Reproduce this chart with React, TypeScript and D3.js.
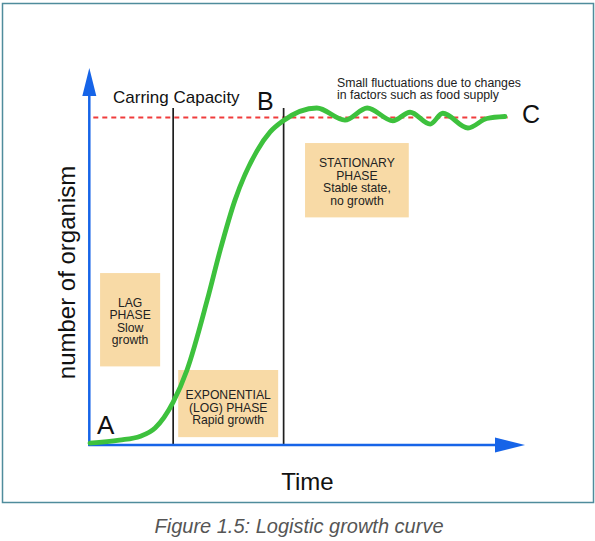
import React from 'react';
import * as d3 from 'd3';

// curve (time 0..100, population with carrying capacity = 100)
const time = [0, 7, 12, 15.5, 19.8, 23.1, 27.9, 31, 34.5, 39.8, 42.9, 46, 54, 60.7, 66, 72.1, 76.2, 81, 84, 90, 94.5, 98.8];
const population = [0.6, 1.5, 2.7, 5.2, 13.1, 22.9, 44.2, 59.5, 74.7, 89.9, 95.6, 99, 102.9, 99.2, 102.9, 99, 101.6, 98, 101.3, 96.8, 99.7, 100.3];

const carryingCapacity = 100;
const phaseBounds = [19.8, 46.1];

const phaseBoxes = [
  { t0: 2.4, t1: 16.7, n0: 24, n1: 52.5, lines: ['LAG', 'PHASE', 'Slow', 'growth'], first: 306.7 },
  { t0: 21, t1: 44.8, n0: 2.4, n1: 22.9, lines: ['EXPONENTIAL', '(LOG) PHASE', 'Rapid growth'], first: 399.3 },
  { t0: 51.2, t1: 75.9, n0: 69.5, n1: 92.2, lines: ['STATIONARY', 'PHASE', 'Stable state,', 'no growth'], first: 167.3 },
];

const note = ['Small fluctuations due to changes', 'in factors such as food supply'];

const W = 595;
const H = 541;
const font = '"Liberation Sans", Arial, sans-serif';
const blue = '#1664e8';
const green = '#3dc13d';

export default function App() {
  const x = d3.scaleLinear().domain([0, 100]).range([90, 510]);
  const y = d3.scaleLinear().domain([0, 100]).range([445, 117.5]);

  const pts = time.map((t, i) => [t, population[i]] as [number, number]);
  const line = d3.line<[number, number]>()
    .x(d => x(d[0]))
    .y(d => y(d[1]))
    .curve(d3.curveMonotoneX);

  const x0 = x(0) - 0.7;
  const y0 = y(0);

  return (
    <svg width={W} height={H} style={{ position: 'absolute', left: 0, top: 0 }} fontFamily={font}>
      <rect x={2.5} y={3.5} width={591} height={499} fill="#fff" stroke="#4f8c9c" strokeWidth={1.5} />

      {phaseBoxes.map((b, i) => {
        const cx = (x(b.t0) + x(b.t1)) / 2;
        return (
          <g key={i}>
            <rect x={x(b.t0)} y={y(b.n1)} width={x(b.t1) - x(b.t0)} height={y(b.n0) - y(b.n1)} fill="#f8daa6" />
            <text y={b.first} fontSize={12.2} textAnchor="middle" fill="#222">
              {b.lines.map((s, j) => (
                <tspan key={j} x={cx} dy={j === 0 ? 0 : 12.4}>{s}</tspan>
              ))}
            </text>
          </g>
        );
      })}

      {/* carrying capacity */}
      <line x1={x0 + 4} x2={x(99.5)} y1={y(carryingCapacity)} y2={y(carryingCapacity)}
        stroke="#f03c3c" strokeWidth={2.2} strokeDasharray="5,4" />

      {phaseBounds.map((t, i) => (
        <line key={i} x1={x(t)} x2={x(t)} y1={108} y2={y0} stroke="#1e1e1e" strokeWidth={1.7} />
      ))}

      {/* axes */}
      <line x1={x0} x2={x0} y1={y0 + 1} y2={94} stroke={blue} strokeWidth={2.5} />
      <path d={`M${x0 - 7},96 L${x0},68 L${x0 + 7},96 Z`} fill={blue} />
      <line x1={x0 - 1} x2={497} y1={y0} y2={y0} stroke={blue} strokeWidth={2.5} />
      <path d={`M495,${y0 - 7.5} L525,${y0} L495,${y0 + 7.5} Z`} fill={blue} />

      <path d={line(pts) || ''} fill="none" stroke={green} strokeWidth={4.8} strokeLinecap="round" />

      <text x={113} y={103} fontSize={17} fill="#111">Carring Capacity</text>
      <text x={257} y={110} fontSize={25} fill="#111">B</text>
      <text x={522} y={123} fontSize={25} fill="#111">C</text>
      <text x={97} y={434} fontSize={26} fill="#111">A</text>
      <text y={86.5} fontSize={12.3} fill="#222">
        {note.map((s, i) => (
          <tspan key={i} x={337} dy={i === 0 ? 0 : 12}>{s}</tspan>
        ))}
      </text>

      <text transform="translate(75,272.5) rotate(-90)" textAnchor="middle" fontSize={24} fill="#111">number of organism</text>
      <text x={307.5} y={490} textAnchor="middle" fontSize={24} fill="#111">Time</text>
      <text x={299} y={533} textAnchor="middle" fontSize={20} fontStyle="italic" fill="#555">Figure 1.5: Logistic growth curve</text>
    </svg>
  );
}
